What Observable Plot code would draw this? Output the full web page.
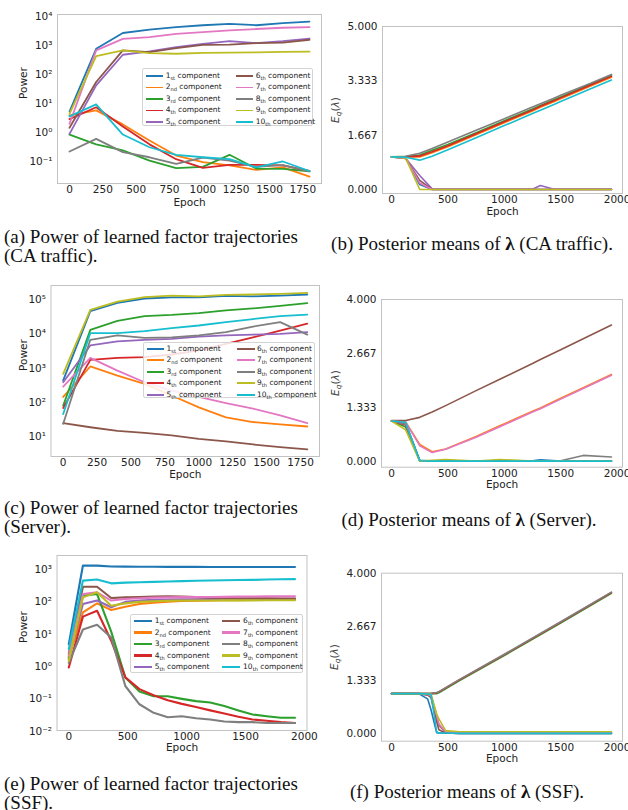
<!DOCTYPE html>
<html>
<head>
<meta charset="utf-8">
<script src="https://cdn.jsdelivr.net/npm/d3@7"></script>
<script src="https://cdn.jsdelivr.net/npm/@observablehq/plot@0.6"></script>
<style>
  html, body { margin: 0; padding: 0; background: #fff; }
  body { width: 628px; height: 810px; position: relative; overflow: hidden; }
  .cap { position: absolute; font-family: "Liberation Serif", "Times New Roman", serif; font-size: 19px; line-height: 19px; color: #111; white-space: nowrap; }
  .cap.center { transform: translateX(-50%); }
  .legend { position: absolute; background: rgba(255,255,255,0.85); border: 1px solid #d4d4d4; border-radius: 2px; box-sizing: border-box; }
  .legend .sw { position: absolute; }
  .legend .lb { position: absolute; font-family: "DejaVu Sans", sans-serif; font-size: 7.5px; color: #222; white-space: nowrap; line-height: 1; transform: translateY(-50%); }
  .legend sub { font-size: 68%; vertical-align: -0.3em; line-height: 0; }
  .ylab { position: absolute; font-family: "DejaVu Sans", sans-serif; font-size: 10.5px; color: #444; white-space: nowrap; transform: translate(-50%, -50%) rotate(-90deg); }
  .ylab sub { font-size: 70%; vertical-align: -0.25em; line-height: 0; }
</style>
</head>
<body>
<script>
// Component names and the matplotlib tab10 palette used for the ten components
const componentNames = ["1st", "2nd", "3rd", "4th", "5th", "6th", "7th", "8th", "9th", "10th"];
const tab10 = ["#1f77b4", "#ff7f0e", "#2ca02c", "#d62728", "#9467bd", "#8c564b", "#e377c2", "#7f7f7f", "#bcbd22", "#17becf"];

// Tick values
const powerEpochTicks = [0, 250, 500, 750, 1000, 1250, 1500, 1750];
const epochTicks = [0, 500, 1000, 1500, 2000];
const caPowerTicks = [1e-1, 1e0, 1e1, 1e2, 1e3, 1e4];
const serverPowerTicks = [1e1, 1e2, 1e3, 1e4, 1e5];
const ssfPowerTicks = [1e-2, 1e-1, 1e0, 1e1, 1e2, 1e3];
const lambdaTicks5 = [0, 5 / 3, 10 / 3, 5];
const lambdaTicks4 = [0, 4 / 3, 8 / 3, 4];

// (a) CA traffic: power of each factor trajectory
const caEpochs = [0, 200, 400, 600, 800, 1000, 1200, 1400, 1600, 1800];
const caPower = [
  [5.3, 770, 2700, 3500, 4300, 5000, 5600, 5000, 5900, 6700],
  [3.9, 5.8, 1.9, 0.53, 0.16, 0.095, 0.073, 0.051, 0.063, 0.030],
  [0.85, 0.39, 0.24, 0.107, 0.059, 0.065, 0.17, 0.057, 0.056, 0.046],
  [2.9, 7.4, 1.6, 0.39, 0.12, 0.06, 0.077, 0.077, 0.073, 0.047],
  [0.9, 42, 480, 630, 870, 1140, 1410, 1200, 1410, 1740],
  [1.45, 55, 680, 590, 810, 1050, 1080, 1200, 1260, 1580],
  [2.0, 680, 1700, 1950, 2500, 2900, 3300, 3700, 4100, 4300],
  [0.22, 0.60, 0.21, 0.14, 0.083, 0.135, 0.107, 0.065, 0.075, 0.046],
  [4.4, 430, 680, 550, 520, 560, 570, 580, 600, 615],
  [3.6, 9.3, 0.85, 0.31, 0.17, 0.14, 0.12, 0.063, 0.10, 0.047]
];

// (b) CA traffic: posterior means of lambda
const caLambdaEpochs = [0, 125, 250, 360, 500, 750, 1000, 1250, 1320, 1440, 1500, 1750, 1950];
const caLambda = [
  [1, 0.97, 0.15, 0, 0, 0, 0, 0, 0, 0, 0, 0, 0],
  [1, 1.0, 1.0, 1.13, 1.31, 1.68, 2.05, 2.41, 2.52, 2.69, 2.78, 3.15, 3.44],
  [1, 1.01, 1.06, 1.20, 1.38, 1.74, 2.11, 2.47, 2.58, 2.75, 2.84, 3.21, 3.50],
  [1, 1.0, 1.03, 1.16, 1.34, 1.71, 2.08, 2.44, 2.55, 2.72, 2.81, 3.18, 3.47],
  [1, 0.96, 0.43, 0.02, 0.01, 0.01, 0.01, 0.01, 0.12, 0.01, 0.01, 0.01, 0.01],
  [1, 0.95, 0.28, 0, 0, 0, 0, 0, 0, 0, 0, 0, 0],
  [1, 0.96, 0.20, 0, 0, 0, 0, 0, 0, 0, 0, 0, 0],
  [1, 1.02, 1.11, 1.26, 1.46, 1.82, 2.17, 2.53, 2.63, 2.80, 2.89, 3.24, 3.53],
  [1, 0.97, 0, 0, 0, 0, 0, 0, 0, 0, 0, 0, 0],
  [1, 0.99, 0.90, 1.02, 1.22, 1.59, 1.96, 2.33, 2.43, 2.61, 2.70, 3.07, 3.36]
];

// (c) Server: power of each factor trajectory
const serverEpochs = [0, 200, 400, 600, 800, 1000, 1200, 1400, 1600, 1800];
const serverPower = [
  [440, 46000, 80000, 107000, 115000, 115000, 128000, 124000, 130000, 140000],
  [145, 1120, 610, 350, 160, 72, 37, 27, 23, 20],
  [81, 13000, 24000, 33000, 35500, 40000, 48000, 55000, 65000, 78000],
  [69, 1740, 2000, 2100, 2500, 3300, 5100, 7900, 12500, 19700],
  [390, 4600, 6000, 6700, 7100, 8300, 9000, 9500, 10000, 11200],
  [25, 19, 15, 13, 11, 8.7, 7.4, 6.0, 5.0, 4.3],
  [290, 2000, 850, 390, 220, 145, 96, 66, 42, 25],
  [24, 6700, 9000, 7600, 7900, 9000, 11200, 16300, 22000, 9500],
  [680, 50000, 87000, 117000, 130000, 124000, 136000, 140000, 146000, 156000],
  [46, 10500, 10500, 12000, 14700, 17500, 22000, 27000, 33000, 36500]
];

// (d) Server: posterior means of lambda
const serverLambdaEpochs = [0, 125, 250, 360, 480, 750, 960, 1250, 1320, 1500, 1700, 1950];
const serverLambda = [
  [1, 0.95, 0.03, 0.01, 0.01, 0.01, 0.01, 0.02, 0.04, 0.01, 0.01, 0.01],
  [1, 0.98, 0.42, 0.24, 0.31, 0.62, 0.88, 1.24, 1.32, 1.56, 1.82, 2.15],
  [1, 0.85, 0.02, 0.01, 0.01, 0.01, 0.01, 0.01, 0.01, 0.01, 0.01, 0.01],
  [1, 0.90, 0.02, 0.01, 0.01, 0.01, 0.01, 0.01, 0.01, 0.01, 0.01, 0.01],
  [1, 0.92, 0.02, 0.01, 0.01, 0.01, 0.01, 0.01, 0.01, 0.01, 0.01, 0.01],
  [1.01, 1.01, 1.09, 1.22, 1.38, 1.75, 2.03, 2.42, 2.52, 2.76, 3.03, 3.37],
  [1, 0.97, 0.39, 0.22, 0.30, 0.60, 0.86, 1.22, 1.30, 1.54, 1.80, 2.13],
  [1, 0.93, 0.02, 0.01, 0.01, 0.01, 0.01, 0.01, 0.01, 0.02, 0.15, 0.11],
  [1, 0.78, 0.01, 0.03, 0.05, 0.01, 0.05, 0.01, 0.01, 0.01, 0.01, 0.01],
  [1, 0.97, 0.02, 0.01, 0.01, 0.01, 0.01, 0.01, 0.01, 0.01, 0.01, 0.01]
];

// (e) SSF: power of each factor trajectory
const ssfEpochs = [0, 120, 240, 360, 480, 600, 720, 840, 960, 1080, 1200, 1320, 1440, 1560, 1680, 1800, 1920];
const ssfPower = [
  [4.9, 1330, 1320, 1240, 1230, 1220, 1220, 1210, 1210, 1210, 1200, 1200, 1200, 1200, 1200, 1200, 1200],
  [1.9, 47, 90, 56, 71, 86, 95, 102, 106, 109, 111, 112, 113, 114, 115, 116, 118],
  [1.7, 155, 175, 12, 0.46, 0.17, 0.12, 0.12, 0.10, 0.085, 0.077, 0.06, 0.044, 0.033, 0.029, 0.026, 0.026],
  [0.93, 35, 53, 6.3, 0.46, 0.2, 0.13, 0.09, 0.07, 0.056, 0.044, 0.035, 0.028, 0.023, 0.021, 0.019, 0.018],
  [2.0, 86, 110, 68, 100, 110, 115, 118, 120, 121, 122, 122, 123, 123, 124, 124, 125],
  [2.5, 295, 295, 132, 138, 140, 145, 150, 145, 140, 135, 132, 130, 129, 128, 127, 126],
  [2.2, 175, 197, 110, 123, 130, 135, 138, 140, 140, 142, 143, 145, 146, 148, 149, 150],
  [1.3, 14, 19.5, 7.9, 0.25, 0.068, 0.037, 0.027, 0.029, 0.025, 0.023, 0.020, 0.019, 0.019, 0.018, 0.018, 0.018],
  [1.5, 138, 200, 76, 90, 100, 105, 108, 110, 110, 110, 111, 111, 111, 112, 112, 112],
  [3.5, 455, 490, 375, 395, 405, 415, 425, 440, 450, 460, 465, 475, 480, 490, 500, 505]
];

// (f) SSF: posterior means of lambda
const ssfLambdaEpochs = [0, 240, 320, 350, 400, 420, 480, 600, 1000, 1500, 1950];
const ssfLambda = [
  [1, 1, 0.87, 0.60, 0.03, 0.02, 0.02, 0.01, 0.01, 0.01, 0.01],
  [1, 1, 0.98, 0.95, 0.40, 0.20, 0.04, 0.03, 0.03, 0.03, 0.03],
  [1, 1, 1, 1, 1, 1.02, 1.12, 1.32, 1.95, 2.76, 3.50],
  [1, 1, 1, 1, 1.02, 1.04, 1.14, 1.34, 1.97, 2.78, 3.52],
  [1, 1, 0.97, 0.93, 0.45, 0.22, 0.04, 0.02, 0.02, 0.02, 0.02],
  [1, 1, 0.97, 0.90, 0.30, 0.10, 0.02, 0.01, 0.01, 0.01, 0.01],
  [1, 1, 0.98, 0.95, 0.45, 0.25, 0.05, 0.03, 0.03, 0.03, 0.03],
  [1, 1, 1, 1.01, 1.03, 1.05, 1.15, 1.35, 1.98, 2.79, 3.53],
  [1, 1, 0.99, 0.99, 0.50, 0.37, 0.08, 0.05, 0.05, 0.05, 0.05],
  [1, 1, 0.99, 0.98, 0.05, 0.02, 0.02, 0.01, 0.01, 0.01, 0.01]
];

// Long-format rows for Plot: one row per (component, epoch)
function rows(epochs, series) {
  return series.flatMap((values, i) =>
    values.map((v, j) => ({epoch: epochs[j], value: v, comp: componentNames[i]})));
}

const superDigits = {"0": "⁰", "1": "¹", "2": "²", "3": "³", "4": "⁴", "5": "⁵", "6": "⁶", "7": "⁷", "8": "⁸", "9": "⁹", "-": "⁻"};
const powerOfTen = d => "10" + String(Math.round(Math.log10(d))).split("").map(c => superDigits[c]).join("");
const threeDecimals = d => d.toFixed(3);

// One subplot: frame = [left, top, right, bottom] in page pixels, box = SVG placement
function panel({frame, box, xDomain, xTicks, yType, yDomain, yTicks, yFormat, data, strokeWidth, yLabel, yLabelOffset, epochOffset}) {
  const [x0, y0, x1, y1] = frame;
  const [bx, by, bw, bh] = box;
  const marks = [
    Plot.line(data, {x: "epoch", y: "value", z: "comp", stroke: "comp", strokeWidth, strokeLinejoin: "round", strokeLinecap: "round"}),
    Plot.frame({stroke: "#c2c2c2", strokeWidth: 1}),
    Plot.axisX({ticks: xTicks, tickSize: 0, tickPadding: 2, tickFormat: d => String(d), label: null}),
    Plot.axisY({ticks: yTicks, tickSize: 0, tickPadding: 5, tickFormat: yFormat, label: null}),
    Plot.text(["Epoch"], {text: d => d, frameAnchor: "bottom", dy: epochOffset})
  ];
  if (yLabel) marks.push(Plot.text([yLabel], {text: d => d, frameAnchor: "left", dx: -yLabelOffset, rotate: -90}));
  const chart = Plot.plot({
    width: bw, height: bh,
    marginLeft: x0 - bx, marginTop: y0 - by,
    marginRight: bx + bw - x1, marginBottom: by + bh - y1,
    style: {fontFamily: "DejaVu Sans, sans-serif", fontSize: "10.5px", color: "#222", background: "none", overflow: "visible"},
    x: {domain: xDomain},
    y: {type: yType, domain: yDomain},
    color: {domain: componentNames, range: tab10},
    marks
  });
  chart.style.position = "absolute";
  chart.style.left = bx + "px";
  chart.style.top = by + "px";
  document.body.appendChild(chart);
}

// Two-column legend of the ten components
function legend({left, top, width, height, col2, firstRow, rowGap, lineWidth, textOffset}) {
  const box = document.createElement("div");
  box.className = "legend";
  Object.assign(box.style, {left: left + "px", top: top + "px", width: width + "px", height: height + "px"});
  componentNames.forEach((name, i) => {
    const col = Math.floor(i / 5), row = i % 5;
    const cx = 3 + col * col2, cy = firstRow + row * rowGap;
    const sw = document.createElement("div");
    sw.className = "sw";
    Object.assign(sw.style, {left: cx + "px", top: (cy - lineWidth / 2) + "px", width: "17.5px", height: lineWidth + "px", background: tab10[i]});
    box.appendChild(sw);
    const lb = document.createElement("div");
    lb.className = "lb";
    lb.style.left = (cx + textOffset) + "px";
    lb.style.top = cy + "px";
    lb.innerHTML = name.replace(/^(\d+)(\D+)$/, "$1<sub>$2</sub>") + " component";
    box.appendChild(lb);
  });
  document.body.appendChild(box);
}

function lambdaLabel(x, y) {
  const el = document.createElement("div");
  el.className = "ylab";
  el.style.left = x + "px";
  el.style.top = y + "px";
  el.innerHTML = "<i>E<sub>q</sub></i>(<i>λ</i>)";
  document.body.appendChild(el);
}

function caption(html, x, y, centered) {
  const el = document.createElement("div");
  el.className = centered ? "cap center" : "cap";
  el.style.left = x + "px";
  el.style.top = y + "px";
  el.innerHTML = html;
  document.body.appendChild(el);
}

// (a)
panel({frame: [57, 14, 321, 183], box: [0, 0, 335, 215], xDomain: [-90, 1890], xTicks: powerEpochTicks,
  yType: "log", yDomain: [10 ** -1.759, 10 ** 4.069], yTicks: caPowerTicks, yFormat: powerOfTen,
  data: rows(caEpochs, caPower), strokeWidth: 1.8, yLabel: "Power", yLabelOffset: 34, epochOffset: 22});
legend({left: 141.7, top: 68.3, width: 171.3, height: 57.7, col2: 90, firstRow: 6.7, rowGap: 11.5, lineWidth: 1.8, textOffset: 20});

// (b)
panel({frame: [382, 26, 622, 193], box: [322, 0, 330, 228], xDomain: [-80, 2048], xTicks: epochTicks,
  yType: "linear", yDomain: [-0.123, 5], yTicks: lambdaTicks5, yFormat: threeDecimals,
  data: rows(caLambdaEpochs, caLambda), strokeWidth: 1.6, epochOffset: 21});
lambdaLabel(335, 109.5);

// (c)
panel({frame: [50.5, 285, 319, 456], box: [0, 270, 335, 215], xDomain: [-90, 1890], xTicks: powerEpochTicks,
  yType: "log", yDomain: [10 ** 0.427, 10 ** 5.408], yTicks: serverPowerTicks, yFormat: powerOfTen,
  data: rows(serverEpochs, serverPower), strokeWidth: 1.8, yLabel: "Power", yLabelOffset: 27.5, epochOffset: 21});
legend({left: 142.5, top: 341.7, width: 172, height: 56.6, col2: 90.5, firstRow: 6, rowGap: 11.5, lineWidth: 1.8, textOffset: 20});

// (d)
panel({frame: [381, 299, 622, 466.7], box: [322, 270, 330, 230], xDomain: [-89, 2048], xTicks: epochTicks,
  yType: "linear", yDomain: [-0.141, 4], yTicks: lambdaTicks4, yFormat: threeDecimals,
  data: rows(serverLambdaEpochs, serverLambda), strokeWidth: 1.6, epochOffset: 21});
lambdaLabel(335, 383);

// (e)
panel({frame: [56.5, 555, 306.5, 730], box: [0, 540, 335, 225], xDomain: [-100, 2022], xTicks: epochTicks,
  yType: "log", yDomain: [10 ** -1.979, 10 ** 3.435], yTicks: ssfPowerTicks, yFormat: powerOfTen,
  data: rows(ssfEpochs, ssfPower), strokeWidth: 2.1, yLabel: "Power", yLabelOffset: 33, epochOffset: 20.5});
legend({left: 130, top: 614.3, width: 173.3, height: 58.4, col2: 88.4, firstRow: 5.8, rowGap: 11.5, lineWidth: 2.6, textOffset: 20.7});

// (f)
panel({frame: [381, 572.7, 622, 740.7], box: [322, 545, 330, 230], xDomain: [-89, 2048], xTicks: epochTicks,
  yType: "linear", yDomain: [-0.184, 4], yTicks: lambdaTicks4, yFormat: threeDecimals,
  data: rows(ssfLambdaEpochs, ssfLambda), strokeWidth: 1.6, epochOffset: 20.5});
lambdaLabel(334, 656.7);

// Sub-captions
caption("(a) Power of learned factor trajectories<br>(CA traffic).", 4, 226.5);
caption("(b) Posterior means of <b>λ</b> (CA traffic).", 472, 234, true);
caption("(c) Power of learned factor trajectories<br>(Server).", 4, 498);
caption("(d) Posterior means of <b>λ</b> (Server).", 469, 509.5, true);
caption("(e) Power of learned factor trajectories<br>(SSF).", 4, 774);
caption("(f) Posterior means of <b>λ</b> (SSF).", 467, 781.5, true);
</script>
</body>
</html>
